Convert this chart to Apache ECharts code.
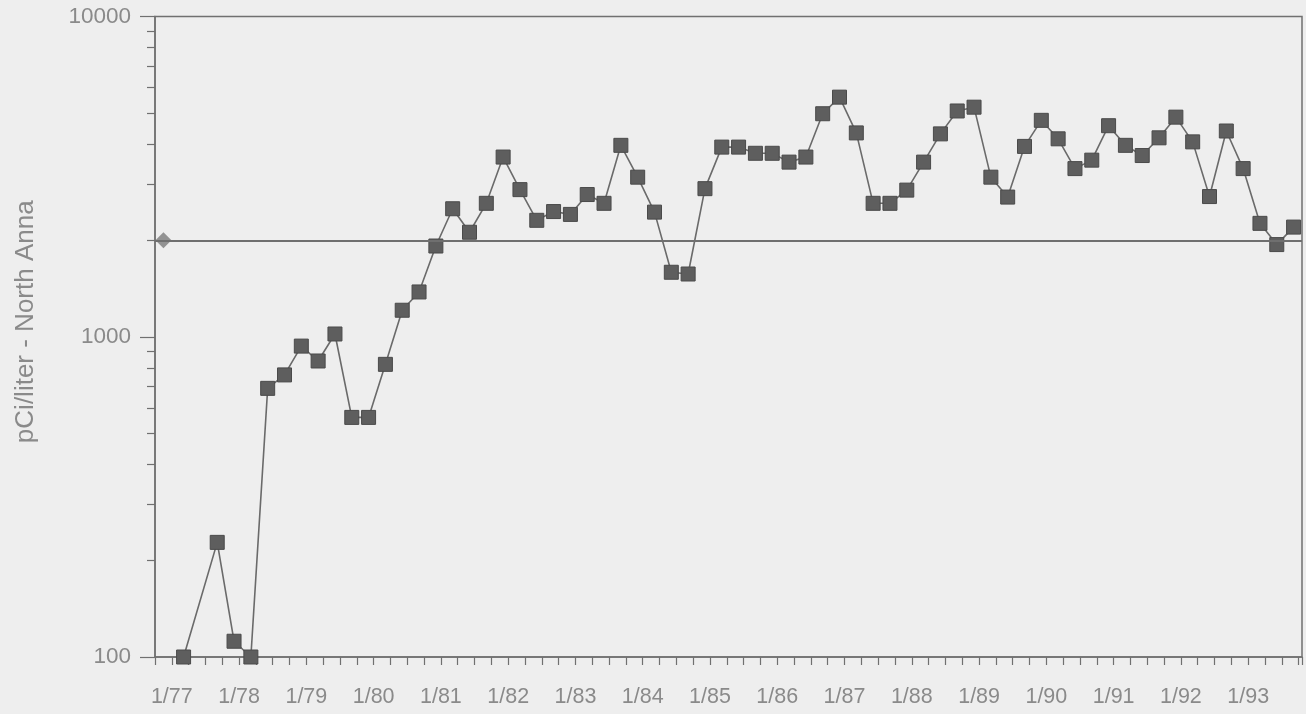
<!DOCTYPE html>
<html>
<head>
<meta charset="utf-8">
<script src="https://cdn.jsdelivr.net/npm/echarts@6/dist/echarts.min.js"></script>
<style>
html,body{margin:0;padding:0;background:#eeeeee;}
#chart{width:1306px;height:714px;}
</style>
</head>
<body>
<div id="chart"></div>
<script>
// ---- data (quarterly samples, pCi/liter) ----
const quarters = [
  '1977Q1','1977Q2','1977Q3','1977Q4','1978Q1','1978Q2','1978Q3','1978Q4',
  '1979Q1','1979Q2','1979Q3','1979Q4','1980Q1','1980Q2','1980Q3','1980Q4',
  '1981Q1','1981Q2','1981Q3','1981Q4','1982Q1','1982Q2','1982Q3','1982Q4',
  '1983Q1','1983Q2','1983Q3','1983Q4','1984Q1','1984Q2','1984Q3','1984Q4',
  '1985Q1','1985Q2','1985Q3','1985Q4','1986Q1','1986Q2','1986Q3','1986Q4',
  '1987Q1','1987Q2','1987Q3','1987Q4','1988Q1','1988Q2','1988Q3','1988Q4',
  '1989Q1','1989Q2','1989Q3','1989Q4','1990Q1','1990Q2','1990Q3','1990Q4',
  '1991Q1','1991Q2','1991Q3','1991Q4','1992Q1','1992Q2','1992Q3','1992Q4',
  '1993Q1','1993Q2','1993Q3'
];
const tritium = [
  100, null, 228, 112, 100, 690, 760, 935,
  840, 1020, 560, 560, 820, 1210, 1380, 1920,
  2510, 2120, 2610, 3640, 2880, 2310, 2460, 2410,
  2780, 2610, 3960, 3150, 2450, 1590, 1570, 2900,
  3910, 3910, 3740, 3740, 3510, 3640, 4970, 5600,
  4330, 2610, 2610, 2870, 3510, 4300, 5070, 5210,
  3150, 2730, 3930, 4740, 4150, 3350, 3560, 4560,
  3960, 3680, 4180, 4850, 4060, 2740, 4390, 3350,
  2260, 1940, 2200
];
const yearLabels = ['1/77','1/78','1/79','1/80','1/81','1/82','1/83','1/84','1/85',
                    '1/86','1/87','1/88','1/89','1/90','1/91','1/92','1/93'];
const firstYear = 1977;
const yMajorTicks = [100, 1000, 10000];
const yMinorTicks = [200,300,400,500,600,700,800,900,2000,3000,4000,5000,6000,7000,8000,9000];
const referenceLevel = 2000;
const referenceMarkerDate = 1976.875;

// ---- layout / style constants ----
const SAMPLE_OFFSET = 0.175;        // position of the sample within its quarter (years)
const X_MIN = 1976.75, X_MAX = 1993.8;
const TEXT = '#8a8a8a';
const AXIS = '#707070';

function quarterToYear(q) {
  const y = parseInt(q.slice(0, 4), 10);
  const n = parseInt(q.slice(5), 10);
  return y + (n - 1) / 4 + SAMPLE_OFFSET;
}

const seriesData = [];
quarters.forEach((q, i) => {
  if (tritium[i] != null) seriesData.push([quarterToYear(q), tritium[i]]);
});

const chart = echarts.init(document.getElementById('chart'), null, {renderer: 'canvas'});
chart.setOption({
  backgroundColor: '#eeeeee',
  animation: false,
  grid: {
    left: 155, right: 4, top: 16.5, bottom: 57,
    containLabel: false, outerBoundsMode: 'none',
    show: true, borderColor: AXIS, borderWidth: 1.5, backgroundColor: 'transparent'
  },
  xAxis: {
    type: 'value', min: X_MIN, max: X_MAX, interval: 0.25,
    axisLine: {show: true, onZero: false, lineStyle: {color: AXIS, width: 1.5}},
    axisTick: {show: true, length: 8, inside: false, lineStyle: {color: AXIS, width: 1.2}},
    splitLine: {show: false},
    axisLabel: {
      color: TEXT, fontSize: 21.5, fontFamily: 'Liberation Sans', margin: 29,
      showMinLabel: true, showMaxLabel: true,
      formatter: v => {
        const y = Math.round(v);
        if (Math.abs(v - y) < 1e-6 && y >= firstYear && y < firstYear + yearLabels.length) {
          return yearLabels[y - firstYear];
        }
        return '';
      }
    }
  },
  yAxis: [
    {
      type: 'log', logBase: 10, min: 100, max: 10000,
      name: 'pCi/liter - North Anna', nameLocation: 'middle', nameGap: 116, nameRotate: 90,
      nameTextStyle: {color: TEXT, fontSize: 26, fontFamily: 'Liberation Sans', padding: [0, 0, 0, 30]},
      axisLine: {show: true, lineStyle: {color: AXIS, width: 1.5}},
      axisTick: {show: true, length: 15, lineStyle: {color: AXIS, width: 1.2}},
      splitLine: {show: false},
      axisLabel: {
        color: TEXT, fontSize: 22.5, fontFamily: 'Liberation Sans', margin: 24,
        formatter: v => {
          const r = Math.round(v);
          return yMajorTicks.indexOf(r) >= 0 ? String(r) : '';
        }
      }
    },
    {
      // minor ticks of the log scale, placed in log10 units
      type: 'value', min: 2, max: 4, position: 'left',
      axisLine: {show: false},
      axisLabel: {show: false},
      splitLine: {show: false},
      axisTick: {show: true, length: 8, lineStyle: {color: AXIS, width: 1.2},
                 customValues: yMinorTicks.map(v => Math.log10(v))}
    }
  ],
  series: [
    {
      name: 'reference', type: 'scatter', yAxisIndex: 0,
      data: [[referenceMarkerDate, referenceLevel]],
      symbol: 'diamond', symbolSize: 16,
      itemStyle: {color: '#7a7a7a'},
      z: 2,
      markLine: {
        silent: true, symbol: ['none', 'none'], label: {show: false},
        lineStyle: {color: '#6f6f6f', width: 2, type: 'solid'},
        data: [{yAxis: referenceLevel}]
      }
    },
    {
      name: 'North Anna', type: 'line', yAxisIndex: 0,
      data: seriesData,
      symbol: 'rect', symbolSize: 14,
      lineStyle: {color: '#6a6a6a', width: 1.6},
      itemStyle: {color: '#5e5e5e', borderColor: '#4a4a4a', borderWidth: 1},
      connectNulls: true, clip: false, z: 3
    }
  ]
});
</script>
</body>
</html>
